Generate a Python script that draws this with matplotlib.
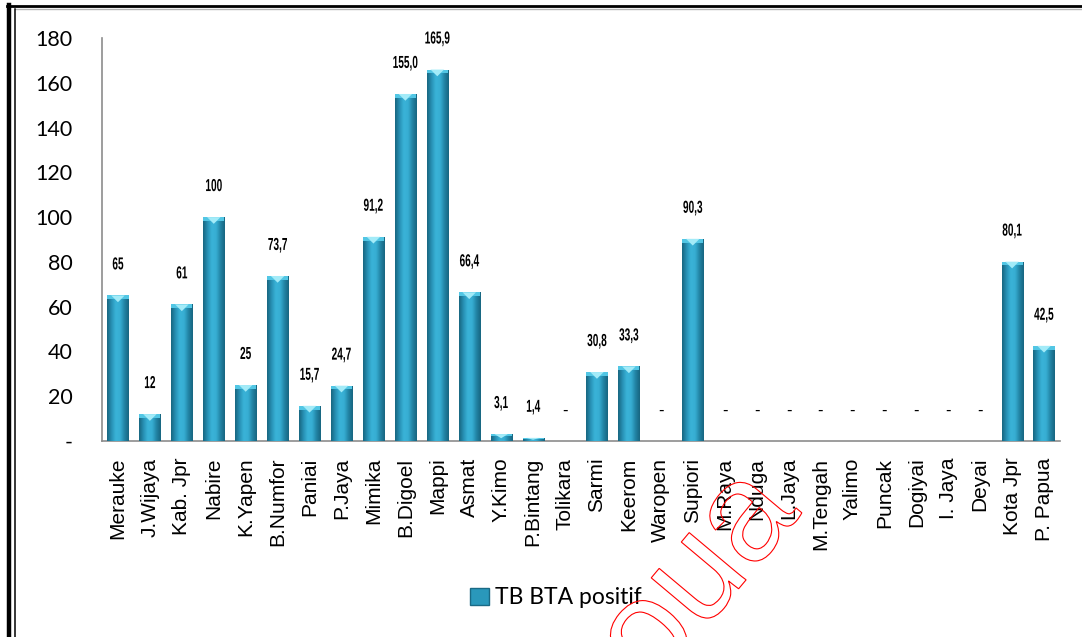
import numpy as np
import matplotlib.pyplot as plt
import matplotlib.transforms as mtransforms
from matplotlib.colors import LinearSegmentedColormap
from matplotlib.patches import Polygon, PathPatch, Patch
from matplotlib.patheffects import AbstractPathEffect
from matplotlib.textpath import TextPath
from matplotlib.font_manager import FontProperties
from matplotlib.lines import Line2D

# TB BTA positif per kabupaten/kota
regions = ['Merauke', 'J.Wijaya', 'Kab. Jpr', 'Nabire', 'K.Yapen', 'B.Numfor',
           'Paniai', 'P.Jaya', 'Mimika', 'B.Digoel', 'Mappi', 'Asmat', 'Y.Kimo',
           'P.Bintang', 'Tolikara', 'Sarmi', 'Keerom', 'Waropen', 'Supiori',
           'M.Raya', 'Nduga', 'L.Jaya', 'M.Tengah', 'Yalimo', 'Puncak',
           'Dogiyai', 'I. Jaya', 'Deyai', 'Kota Jpr', 'P. Papua']
cases = [65, 12, 61, 100, 25, 73.7, 15.7, 24.7, 91.2, 155.0, 165.9, 66.4, 3.1,
         1.4, 0, 30.8, 33.3, 0, 90.3, 0, 0, 0, 0, 0, 0, 0, 0, 0, 80.1, 42.5]
decimals = [0, 0, 0, 0, 0, 1, 1, 1, 1, 1, 1, 1, 1,
            1, 0, 1, 1, 0, 1, 0, 0, 0, 0, 0, 0, 0, 0, 0, 1, 1]
yticks = [0, 20, 40, 60, 80, 100, 120, 140, 160, 180]


class Narrow(AbstractPathEffect):
    """Squeeze glyphs horizontally about their centre (condensed look)."""

    def __init__(self, sx=0.6):
        super().__init__()
        self.sx = sx

    def draw_path(self, renderer, gc, tpath, affine, rgbFace=None):
        ext = tpath.get_extents()
        cx = (ext.x0 + ext.x1) / 2
        squeeze = (mtransforms.Affine2D().translate(-cx, 0)
                   .scale(self.sx, 1).translate(cx, 0))
        renderer.draw_path(gc, tpath, squeeze + affine, rgbFace)


W, H = 1082, 637
fig = plt.figure(figsize=(W / 100, H / 100), dpi=100)
fig.patch.set_facecolor('white')
ax = fig.add_axes([102 / W, 1 - 441 / H, (1060 - 102) / W, (441 - 38) / H])

x = np.arange(len(regions))
bars = ax.bar(x, cases, width=0.66, color='#2a98bb', zorder=2)

# cylinder shading: dark edges, light middle
body_cmap = LinearSegmentedColormap.from_list(
    'body', ['#186680', '#2790b4', '#3ab3d8', '#37aed3', '#2284a5', '#176580'])
grad = np.linspace(0, 1, 64).reshape(1, -1)
for rect, v in zip(bars, cases):
    if v <= 0:
        continue
    x0, w = rect.get_x(), rect.get_width()
    im = ax.imshow(grad, extent=[x0, x0 + w, 0, v], aspect='auto',
                   cmap=body_cmap, zorder=3, interpolation='bicubic')
    im.set_clip_path(rect)
    cap = min(3.0, v * 0.6)
    ax.add_patch(Polygon([[x0, v], [x0 + w, v], [x0 + w, v - cap * 0.55],
                          [x0, v - cap * 0.55]], closed=True,
                         facecolor='#52c6e4', edgecolor='none', zorder=4))
    ax.add_patch(Polygon([[x0 + w * 0.18, v], [x0 + w * 0.82, v],
                          [x0 + w / 2, v - cap]], closed=True,
                         facecolor='#a3ebf8', edgecolor='none', zorder=5))

ax.set_xlim(-0.5, len(regions) - 0.5)
ax.set_ylim(0, 180)

# value labels
for xi, v, d in zip(x, cases, decimals):
    if v == 0:
        ax.annotate('-', (xi, v), xytext=(0, 22), textcoords='offset points',
                    ha='center', va='center', fontsize=11, color='black')
        continue
    txt = f'{v:.{d}f}'.replace('.', ',')
    ax.annotate(txt, (xi, v), xytext=(0, 22), textcoords='offset points',
                ha='center', va='center', fontsize=12.5, fontweight='bold',
                family='Liberation Sans', color='black',
                path_effects=[Narrow(0.58)])

ax.set_yticks(yticks)
ax.set_yticklabels(['-'] + [str(t) for t in yticks[1:]], family='Lato', fontsize=15.5)
ax.tick_params(axis='y', length=0, pad=21)
ax.set_xticks(x)
ax.set_xticklabels(regions, rotation=90, family='Liberation Sans', fontsize=15)
ax.tick_params(axis='x', length=0, pad=12)

for side in ['top', 'right']:
    ax.spines[side].set_visible(False)
for side in ['left', 'bottom']:
    ax.spines[side].set_color('#8c8c8c')
    ax.spines[side].set_linewidth(1.2)

handle = Patch(facecolor='#2a98bb', edgecolor='#1a6a85')
fig.legend([handle], ['TB BTA positif'], loc='center left',
           bbox_to_anchor=(459 / W, 1 - 598 / H), frameon=False,
           handlelength=0.8, handleheight=0.8, handletextpad=0.25,
           borderpad=0, prop={'family': 'Lato', 'size': 16.5})

# outlined red watermark
tp = TextPath((0, 0), 'oua', size=140, prop=FontProperties(family='Liberation Sans'))
trans = mtransforms.Affine2D().rotate_deg(50).translate(652, -55)
fig.add_artist(PathPatch(tp, transform=trans, facecolor='none',
                         edgecolor='red', lw=0.8, zorder=10))

# page frame
fig.add_artist(Line2D([7 / W, 1], [1 - 6 / H] * 2, color='black', lw=2.0,
                      transform=fig.transFigure))
fig.add_artist(Line2D([15 / W, 1], [1 - 9 / H] * 2, color='#b5b5b5', lw=1.0,
                      transform=fig.transFigure))
fig.add_artist(Line2D([9 / W] * 2, [0, 1 - 5 / H], color='black', lw=3.2,
                      transform=fig.transFigure))
fig.add_artist(Line2D([14.5 / W] * 2, [0, 1 - 9 / H], color='black', lw=1.1,
                      transform=fig.transFigure))

fig.savefig('out.png', dpi=100)
